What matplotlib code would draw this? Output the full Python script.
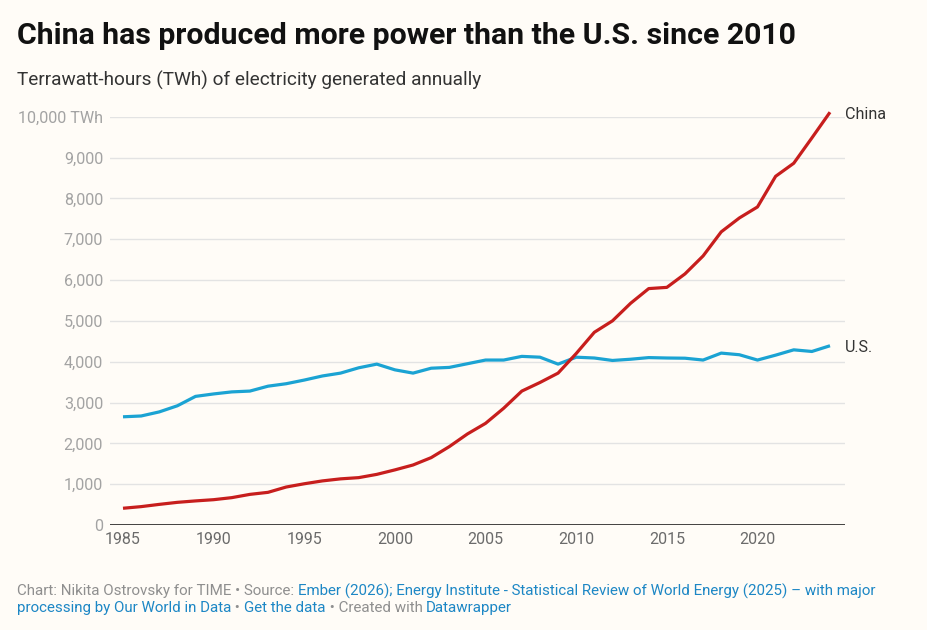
import matplotlib
matplotlib.use("Agg")
import matplotlib.pyplot as plt

years = list(range(1985, 2025))
china_twh = [410, 450, 505, 555, 590, 620, 670, 750, 800, 930,
             1010, 1080, 1130, 1160, 1240, 1350, 1470, 1650, 1920, 2230,
             2490, 2860, 3280, 3490, 3720, 4200, 4720, 5000, 5430, 5790,
             5820, 6150, 6590, 7180, 7520, 7790, 8540, 8860, 9480, 10110]
us_twh = [2650, 2670, 2770, 2920, 3150, 3210, 3260, 3280, 3400, 3460,
          3550, 3650, 3720, 3850, 3940, 3800, 3720, 3840, 3860, 3950,
          4040, 4040, 4130, 4110, 3940, 4110, 4090, 4030, 4060, 4100,
          4090, 4085, 4040, 4210, 4170, 4040, 4160, 4290, 4250, 4390]
x_ticks = [1985, 1990, 1995, 2000, 2005, 2010, 2015, 2020]
y_ticks = [0, 1000, 2000, 3000, 4000, 5000, 6000, 7000, 8000, 9000, 10000]

BG = "#fffcf7"
RED = "#c71e1d"
BLUE = "#1ba3d3"
FONT = ["Roboto", "DejaVu Sans"]

W, H = 927, 630
fig = plt.figure(figsize=(W / 100, H / 100), dpi=100, facecolor=BG)

left, right, top, bottom = 110, 845, 116.7, 525
ax = fig.add_axes([left / W, 1 - bottom / H, (right - left) / W, (bottom - top) / H])
ax.set_facecolor(BG)

x0 = 1985 - 13 / 18.13
x1 = 2024 + 15 / 18.13
ax.set_xlim(x0, x1)
ax.set_ylim(0, 10000)

for yt in y_ticks[1:]:
    ax.axhline(yt, color="#e3e3e3", lw=1.0, zorder=1)
ax.axhline(0, color="#222222", lw=1.2, zorder=3)

ax.plot(years, us_twh, color=BLUE, lw=2.3, zorder=4, clip_on=False,
        solid_joinstyle="round", solid_capstyle="butt")
ax.plot(years, china_twh, color=RED, lw=2.3, zorder=5, clip_on=False,
        solid_joinstyle="round", solid_capstyle="butt")

for s in ax.spines.values():
    s.set_visible(False)

ax.set_xticks(x_ticks)
ax.set_xticklabels([str(v) for v in x_ticks], family=FONT, fontsize=11.5, color="#6b6b6b")
ax.set_yticks(y_ticks)
ylabels = [f"{v:,}" for v in y_ticks]
ylabels[-1] = "10,000 TWh"
ax.set_yticklabels(ylabels, family=FONT, fontsize=11.6, color="#a3a3a3")
ax.tick_params(axis="both", length=0)
ax.tick_params(axis="y", pad=5)
ax.tick_params(axis="x", pad=5)

ax.annotate("China", xy=(x1, china_twh[-1]), xytext=(0, -1.5), textcoords="offset points",
            family=FONT, fontsize=11.6, color="#333333", va="center", ha="left",
            annotation_clip=False)
ax.annotate("U.S.", xy=(x1, us_twh[-1]), xytext=(0, -1.5), textcoords="offset points",
            family=FONT, fontsize=11.6, color="#333333", va="center", ha="left",
            annotation_clip=False)

fig.text(17 / W, 1 - 36 / H, "China has produced more power than the U.S. since 2010",
         family=FONT, fontsize=21.8, fontweight="bold", color="#111111", va="center", ha="left")
fig.text(17 / W, 1 - 80 / H, "Terrawatt-hours (TWh) of electricity generated annually",
         family=FONT, fontsize=13.7, color="#333333", va="center", ha="left")

# footer
fs = 10.9
gray = "#8f8f8f"
link = "#1d87c5"
line1 = [("Chart: Nikita Ostrovsky for TIME • Source: ", gray),
         ("Ember (2026); Energy Institute - Statistical Review of World Energy (2025) – with major", link)]
line2 = [("processing by Our World in Data", link), (" • ", gray), ("Get the data", link),
         (" • Created with ", gray), ("Datawrapper", link)]

renderer = fig.canvas.get_renderer()

def draw_line(parts, ypx):
    x = 17
    for txt, col in parts:
        t = fig.text(x / W, 1 - ypx / H, txt, family=FONT, fontsize=fs, color=col,
                     va="center", ha="left")
        bb = t.get_window_extent(renderer=renderer)
        x += bb.width

draw_line(line1, 591)
draw_line(line2, 608)

fig.savefig("out.png", dpi=100, facecolor=BG)
